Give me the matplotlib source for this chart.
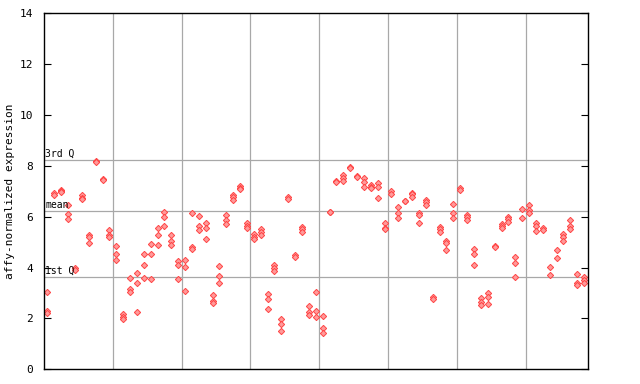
import matplotlib
matplotlib.use("Agg")
import matplotlib.pyplot as plt

# valores: una lista de replicas por cada muestra
valores = [
    [3.03, 2.3, 2.22], [6.95, 6.85], [7.07, 7.0, 6.97], [6.46, 6.11, 5.9],
    [3.97, 3.92], [6.85, 6.75, 6.68], [5.3, 5.22, 4.96], [8.2, 8.15],
    [7.47, 7.43], [5.48, 5.3, 5.2], [4.84, 4.52, 4.3], [2.16, 2.07, 1.99],
    [3.58, 3.14, 3.05], [3.78, 3.41, 2.27], [4.52, 4.09, 3.58], [4.92, 4.52, 3.54],
    [5.55, 5.27, 4.88], [6.19, 5.98, 5.63], [5.27, 5.05, 4.9], [4.25, 4.09, 3.54],
    [4.29, 4.01, 3.07], [6.14, 4.82, 4.75], [6.02, 5.63, 5.47], [5.74, 5.55, 5.11],
    [2.91, 2.67, 2.6], [4.05, 3.66, 3.38], [6.06, 5.87, 5.7], [6.84, 6.77, 6.66],
    [7.21, 7.12, 7.08], [5.74, 5.64, 5.55], [5.31, 5.22, 5.13], [5.51, 5.4, 5.3],
    [2.96, 2.78, 2.36], [4.1, 4.0, 3.87], [1.98, 1.78, 1.49], [6.77, 6.69],
    [4.5, 4.41], [5.59, 5.5, 5.41], [2.49, 2.25, 2.12], [3.03, 2.28, 2.06],
    [2.08, 1.61, 1.42], [6.2, 6.17], [7.42, 7.35], [7.64, 7.51, 7.4],
    [7.95, 7.9], [7.6, 7.56], [7.53, 7.37, 7.18], [7.24, 7.17, 7.12],
    [7.33, 7.17, 6.73], [5.74, 5.55, 5.5], [7.0, 6.9], [6.37, 6.16, 5.96],
    [6.62, 6.6], [6.93, 6.88, 6.77], [6.16, 6.07, 5.74], [6.66, 6.58, 6.45],
    [2.86, 2.75], [5.59, 5.5, 5.41], [5.03, 4.98, 4.69], [6.49, 6.14, 5.95],
    [7.14, 7.07], [6.07, 5.98, 5.87], [4.73, 4.52, 4.09], [2.79, 2.66, 2.53],
    [3.01, 2.86, 2.57], [4.84, 4.8], [5.7, 5.62, 5.57], [6.0, 5.9, 5.81],
    [4.41, 4.17, 3.64], [6.29, 5.96], [6.46, 6.27, 6.14], [5.74, 5.64, 5.44],
    [5.55, 5.47], [4.01, 3.7], [4.69, 4.37], [5.32, 5.19, 5.06],
    [5.87, 5.64, 5.51], [3.74, 3.41, 3.32], [3.62, 3.51, 3.41],
]

# lineas de referencia
cuartil_1 = 3.62
media = 6.23
cuartil_3 = 8.23
etiquetas_ref = ["1st Q", "mean", "3rd Q"]

# separadores de grupos (cada 10 muestras)
separadores = [9.5, 19.5, 29.5, 39.5, 49.5, 59.5, 69.5]
ticks_y = [0, 2, 4, 6, 8, 10, 12, 14]

fig = plt.figure(figsize=(6.4, 3.84), dpi=100)
ax = fig.add_axes([0.0688, 0.0383, 0.8492, 0.9271])

gris = "#a8a8a8"
for xs in separadores:
    ax.axvline(xs, color=gris, lw=0.9, zorder=1)
for yv, txt in zip([cuartil_1, media, cuartil_3], etiquetas_ref):
    ax.axhline(yv, color=gris, lw=0.9, zorder=1)
    ax.text(-0.35, yv + 0.05, txt, fontsize=7, family="DejaVu Sans Mono",
            va="bottom", ha="left", zorder=3)

# puntos
xs_pts = []
ys_pts = []
for i, reps in enumerate(valores):
    for v in reps:
        xs_pts.append(i)
        ys_pts.append(v)
ax.plot(xs_pts, ys_pts, linestyle="none", marker="D", markersize=3.2,
        markerfacecolor="#ff9a9a", markeredgecolor="#ff4444",
        markeredgewidth=0.7, zorder=2)

ax.set_xlim(-0.5, len(valores) - 0.5)
ax.set_ylim(0, 14)
ax.set_xticks([])
ax.set_yticks(ticks_y)
ax.set_yticklabels([str(t) for t in ticks_y], family="DejaVu Sans Mono", fontsize=8)
ax.tick_params(axis="y", direction="in", length=5, width=0.8, right=True, pad=8)
ax.set_ylabel("affy-normalized expression", family="DejaVu Sans Mono", fontsize=8,
              labelpad=3)
for s in ax.spines.values():
    s.set_linewidth(1.0)

fig.savefig("out.png", dpi=100)
